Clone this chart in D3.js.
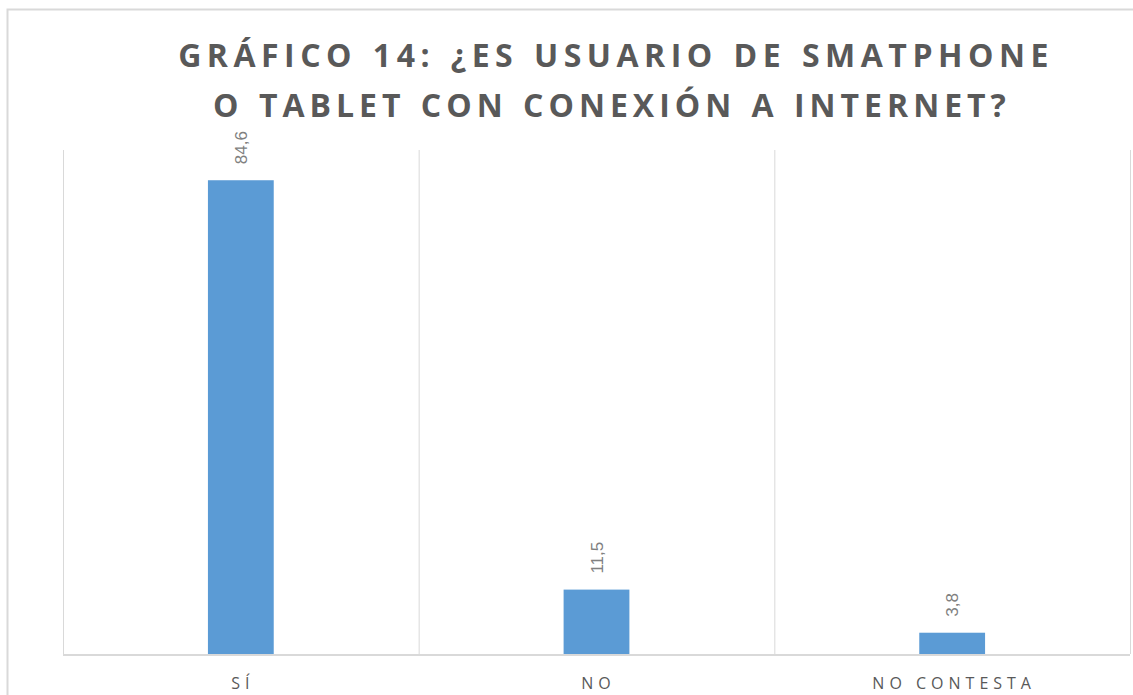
<!DOCTYPE html>
<html><head><meta charset="utf-8">
<script src="https://cdn.jsdelivr.net/npm/d3@7"></script>
<style>body{margin:0;background:#fff}svg{display:block}</style>
</head><body>
<script>
const categories = ["SÍ", "NO", "NO CONTESTA"];
const values = [84.6, 11.5, 3.8];
const valueLabels = ["84,6", "11,5", "3,8"];
const titleLines = ["GRÁFICO 14: ¿ES USUARIO DE SMATPHONE", "O TABLET CON CONEXIÓN A INTERNET?"];

const W = 1133, H = 695;
const svg = d3.select("body").append("svg").attr("width", W).attr("height", H);
svg.append("rect").attr("x", 7.5).attr("y", 9.5).attr("width", W + 10).attr("height", H + 10)
  .attr("fill", "#fff").attr("stroke", "#d9d9d9").attr("stroke-width", 2);

const m = {left: 63, right: 1130, top: 150, bottom: 654};
const x = d3.scaleBand().domain(categories).range([m.left, m.right]).paddingInner(0).paddingOuter(0);
const y = d3.scaleLinear().domain([0, 90]).range([m.bottom, m.top]);

const bounds = categories.map(c => x(c)).concat([m.right]);
svg.selectAll(".grid").data(bounds).enter().append("line")
  .attr("x1", d => d + 0.5).attr("x2", d => d + 0.5).attr("y1", m.top).attr("y2", m.bottom)
  .attr("stroke", "#d9d9d9").attr("stroke-width", 1);

const bw = x.bandwidth() * 0.185;
svg.selectAll(".bar").data(values).enter().append("rect")
  .attr("x", (d, i) => x(categories[i]) + x.bandwidth() / 2 - bw / 2)
  .attr("width", bw)
  .attr("y", d => y(d)).attr("height", d => y(0) - y(d))
  .attr("fill", "#5b9bd5");

svg.append("line").attr("x1", m.left).attr("x2", m.right).attr("y1", m.bottom + 1).attr("y2", m.bottom + 1)
  .attr("stroke", "#d9d9d9").attr("stroke-width", 2);

svg.selectAll(".vl").data(values).enter().append("text")
  .attr("transform", (d, i) => `translate(${x(categories[i]) + x.bandwidth() / 2 + 6},${y(d) - 16}) rotate(-90)`)
  .attr("text-anchor", "start")
  .attr("font-family", "Liberation Sans, Arial, sans-serif").attr("font-size", 17)
  .attr("fill", "#808080")
  .text((d, i) => valueLabels[i]);

svg.selectAll(".cl").data(categories).enter().append("text")
  .attr("x", d => x(d) + x.bandwidth() / 2 + 2).attr("y", 689)
  .attr("text-anchor", "middle")
  .attr("font-family", "Open Sans, sans-serif").attr("font-size", 16)
  .attr("letter-spacing", "5px")
  .attr("fill", "#595959")
  .text(d => d);

svg.selectAll(".t").data(titleLines).enter().append("text")
  .attr("x", (d, i) => i === 0 ? 616 : 612).attr("y", (d, i) => 67 + i * 50)
  .attr("text-anchor", "middle")
  .attr("font-family", "Open Sans, sans-serif").attr("font-weight", "bold").attr("font-size", 32)
  .attr("letter-spacing", (d, i) => i === 0 ? "5.5px" : "5px")
  .attr("word-spacing", "2px")
  .attr("fill", "#595959")
  .text(d => d);
</script>
</body></html>
